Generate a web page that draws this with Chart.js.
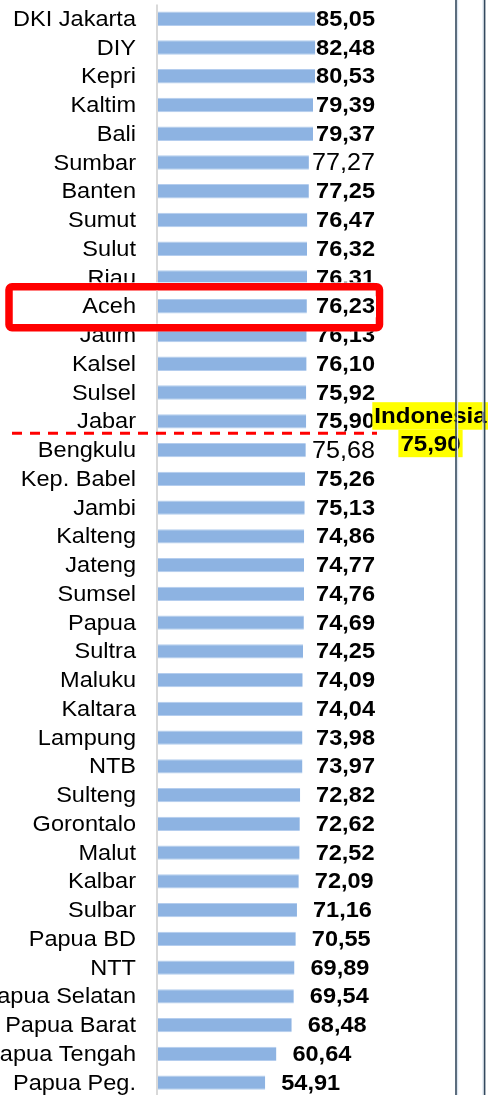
<!DOCTYPE html>
<html>
<head>
<meta charset="utf-8">
<script src="https://cdn.jsdelivr.net/npm/chart.js@4.4.1/dist/chart.umd.min.js"></script>
<style>
  html, body { margin: 0; padding: 0; background: #fff; overflow: hidden; }
  #wrap { width: 488px; height: 1097px; }
</style>
</head>
<body>
<div id="wrap"><canvas id="ikpChart" width="488" height="1097"></canvas></div>
<script>
// Province scores, top to bottom as shown
const provinces = [
  'DKI Jakarta', 'DIY', 'Kepri', 'Kaltim', 'Bali', 'Sumbar', 'Banten', 'Sumut', 'Sulut', 'Riau',
  'Aceh', 'Jatim', 'Kalsel', 'Sulsel', 'Jabar', 'Bengkulu', 'Kep. Babel', 'Jambi', 'Kalteng', 'Jateng',
  'Sumsel', 'Papua', 'Sultra', 'Maluku', 'Kaltara', 'Lampung', 'NTB', 'Sulteng', 'Gorontalo', 'Malut',
  'Kalbar', 'Sulbar', 'Papua BD', 'NTT', 'Papua Selatan', 'Papua Barat', 'Papua Tengah', 'Papua Peg.'
];
const scores = [
  85.05, 82.48, 80.53, 79.39, 79.37, 77.27, 77.25, 76.47, 76.32, 76.31,
  76.23, 76.13, 76.10, 75.92, 75.90, 75.68, 75.26, 75.13, 74.86, 74.77,
  74.76, 74.69, 74.25, 74.09, 74.04, 73.98, 73.97, 72.82, 72.62, 72.52,
  72.09, 71.16, 70.55, 69.89, 69.54, 68.48, 60.64, 54.91
];
const plainLabels = ['Sumbar', 'Bengkulu'];   // value labels not in bold
const highlightProvince = 'Aceh';
const nationalName = 'Indonesia';
const nationalScore = 75.90;
const nationalAfter = 'Jabar';                 // dashed line sits below this row

const FONT = "'Liberation Sans', Arial, sans-serif";
const SX = 1.07; // the source text is a little wide

function fmt(v) { return v.toFixed(2).replace('.', ','); }

function wideText(ctx, text, x, y, font, align) {
  ctx.save();
  ctx.font = font;
  ctx.textAlign = align;
  ctx.textBaseline = 'middle';
  ctx.translate(x, y);
  ctx.scale(SX, 1);
  ctx.fillText(text, 0, 0);
  ctx.restore();
}
function textWidth(ctx, text, font) {
  ctx.save();
  ctx.font = font;
  const w = ctx.measureText(text).width * SX;
  ctx.restore();
  return w;
}

const labelRight = 136;
const valueMaxRight = 375;

function drawRow(ctx, chart, i) {
  const bar = chart.getDatasetMeta(0).data[i];
  ctx.fillStyle = '#000';
  wideText(ctx, provinces[i], labelRight, bar.y + 1, '22px ' + FONT, 'right');

  const plain = plainLabels.includes(provinces[i]);
  const font = plain ? '23.5px ' + FONT : 'bold 22px ' + FONT;
  const txt = fmt(scores[i]);
  const w = textWidth(ctx, txt, font);
  const left = Math.min(bar.x + 16, valueMaxRight - w);
  ctx.fillStyle = '#fff';
  ctx.fillRect(left - 1, bar.y - 10, w + 2, 21);
  ctx.fillStyle = '#000';
  wideText(ctx, txt, left, bar.y + 1, font, 'left');
}

const overlay = {
  id: 'overlay',
  afterDraw(chart) {
    const ctx = chart.ctx;
    const area = chart.chartArea;
    const meta = chart.getDatasetMeta(0);

    // axis line
    ctx.save();
    ctx.strokeStyle = '#d9d9d9';
    ctx.lineWidth = 2;
    ctx.beginPath();
    ctx.moveTo(area.left - 1, area.top);
    ctx.lineTo(area.left - 1, area.bottom);
    ctx.stroke();
    ctx.restore();

    provinces.forEach((p, i) => drawRow(ctx, chart, i));

    // highlighted province box
    const hi = provinces.indexOf(highlightProvince);
    const hb = meta.data[hi];
    ctx.save();
    ctx.fillStyle = '#fff';
    ctx.fillRect(5, hb.y - 24, 378, 49);
    ctx.beginPath();
    ctx.roundRect(9, hb.y - 19.5, 370.5, 41, 3);
    ctx.lineWidth = 7.5;
    ctx.strokeStyle = '#ff0000';
    ctx.stroke();
    ctx.strokeStyle = '#d9d9d9';
    ctx.lineWidth = 2;
    ctx.beginPath();
    ctx.moveTo(area.left - 1, hb.y - 15.5);
    ctx.lineTo(area.left - 1, hb.y + 17.5);
    ctx.stroke();
    ctx.restore();
    hb.draw(ctx);
    drawRow(ctx, chart, hi);

    // national average line and label
    const ni = provinces.indexOf(nationalAfter);
    const yLine = (meta.data[ni].y + meta.data[ni + 1].y) / 2 - 2.5;
    ctx.save();
    ctx.strokeStyle = '#ff0000';
    ctx.lineWidth = 3;
    ctx.setLineDash([10, 8]);
    ctx.beginPath();
    ctx.moveTo(12, yLine);
    ctx.lineTo(377, yLine);
    ctx.stroke();
    ctx.restore();

    const nf = 'bold 22.5px ' + FONT;
    const cx = 430.5;
    const lines = [nationalName, fmt(nationalScore)];
    lines.forEach((t, k) => {
      const w = textWidth(ctx, t, nf);
      const top = yLine - 31 + k * 27.5;
      ctx.fillStyle = '#ffff00';
      ctx.fillRect(cx - w / 2 - 2, top, w + 4, 27.5);
      ctx.fillStyle = '#000';
      wideText(ctx, t, cx, top + 15, nf, 'center');
    });

    // frame lines on the right
    ctx.save();
    [[456, 457.6], [484.6, 483]].forEach(([dark, light]) => {
      ctx.lineWidth = 1.2;
      ctx.strokeStyle = '#dce6f2';
      ctx.beginPath(); ctx.moveTo(light, 0); ctx.lineTo(light, 1097); ctx.stroke();
      ctx.lineWidth = 1.6;
      ctx.strokeStyle = '#34495e';
      ctx.beginPath(); ctx.moveTo(dark, 0); ctx.lineTo(dark, 1097); ctx.stroke();
    });
    ctx.restore();
  }
};

new Chart(document.getElementById('ikpChart'), {
  type: 'bar',
  data: {
    labels: provinces,
    datasets: [{
      data: scores,
      backgroundColor: '#8db3e2',
      borderColor: '#b4cdee',
      borderWidth: { top: 1, bottom: 1, left: 0, right: 0 },
      borderSkipped: false,
      barPercentage: 0.5,
      categoryPercentage: 1
    }]
  },
  options: {
    indexAxis: 'y',
    responsive: false,
    animation: false,
    layout: { padding: { left: 158, right: 134.7, top: 4.4, bottom: 0 } },
    plugins: { legend: { display: false }, tooltip: { enabled: false } },
    scales: {
      x: { display: false, min: 0, max: 100 },
      y: { display: false }
    }
  },
  plugins: [overlay]
});
</script>
</body>
</html>
